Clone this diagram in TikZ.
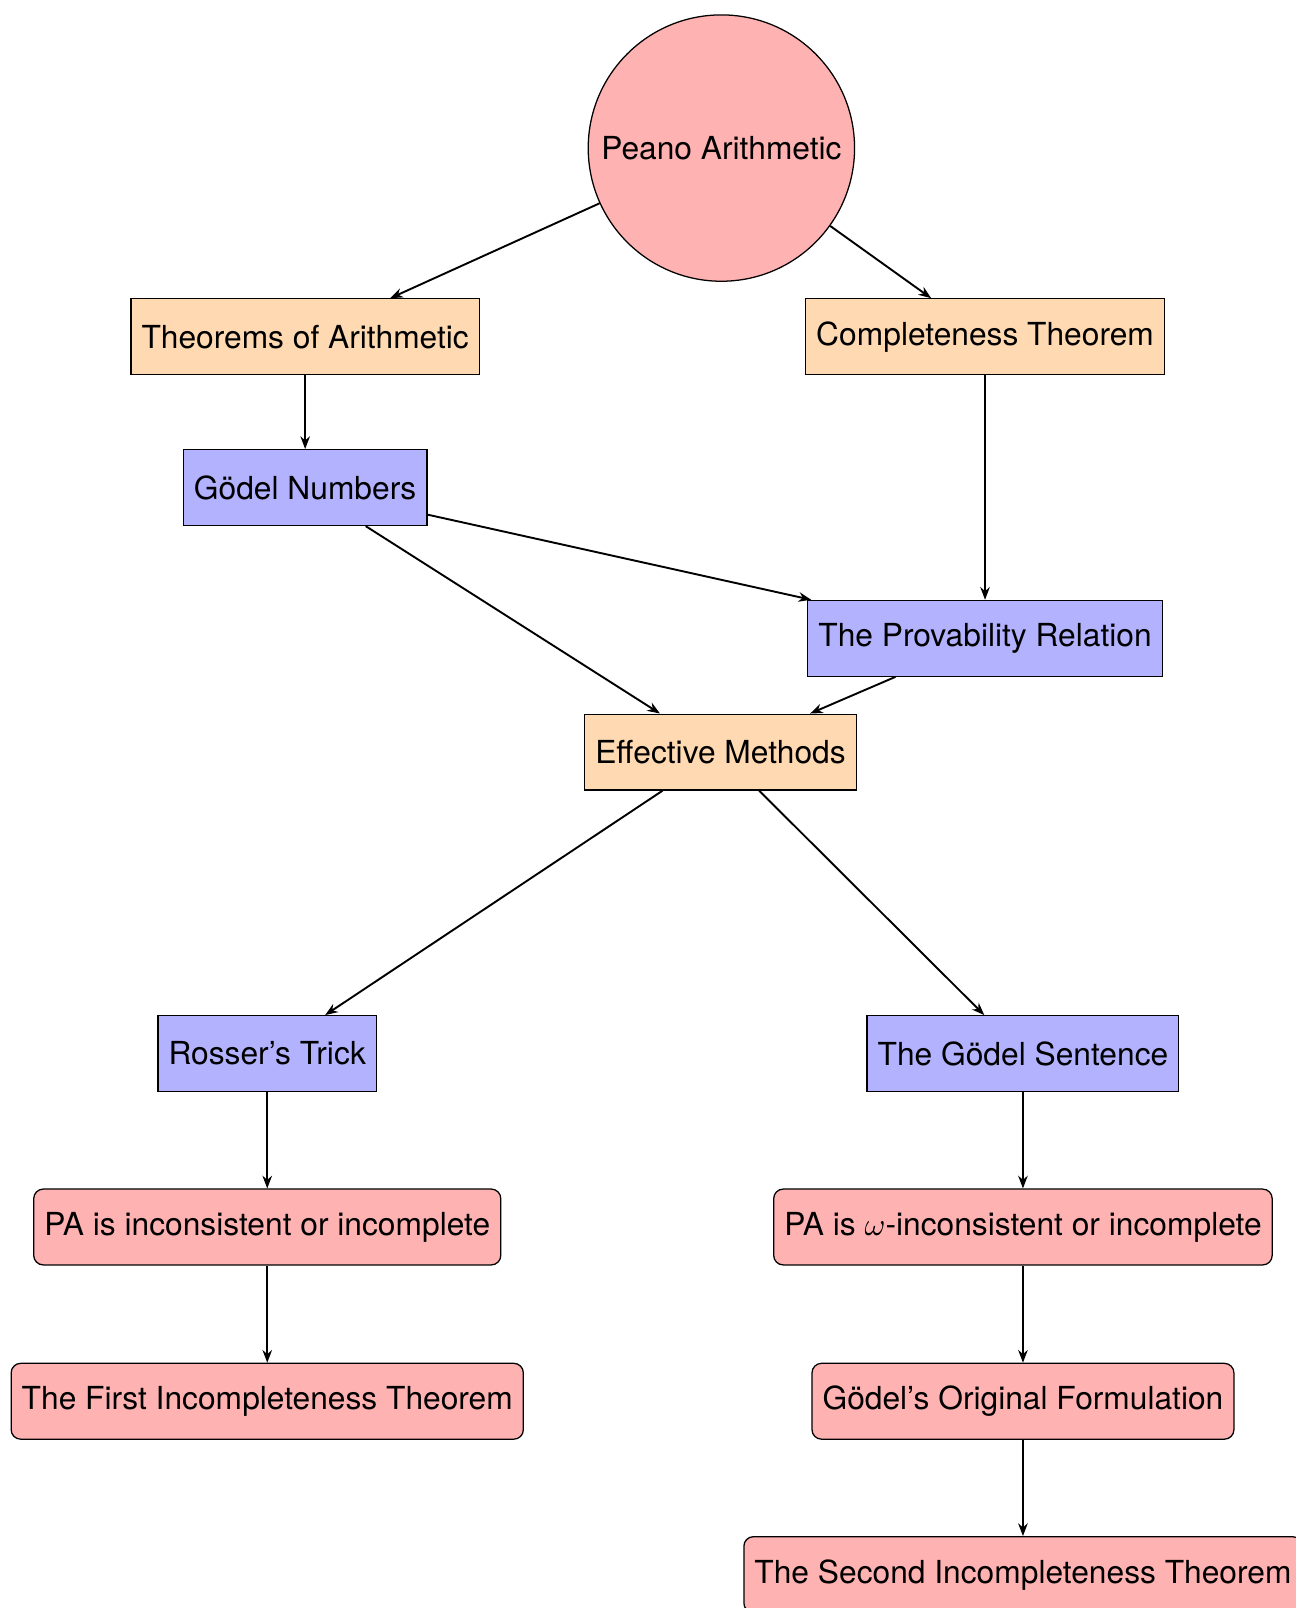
\documentclass[tikz,border=0pt]{standalone}
\usepackage{fontspec}
\setmainfont{TeX Gyre Heros}
\usetikzlibrary{arrows.meta, shapes.geometric}

\begin{document}
\begin{tikzpicture}
        [every node/.style={
             draw,
             font=\fontsize{10}{12}\selectfont
         },
         basebox/.style={
             rectangle,
             minimum height=0.84cm,
             inner sep=0.3333em
         },
         orangebox/.style={basebox, fill=orange!30},
         bluebox/.style={basebox, fill=blue!30},
         redbox/.style={basebox, fill=red!30, rounded corners=3pt},
         link/.style={
             semithick,
             -{Stealth[length=4pt, width=3pt]}
         }
         ]
        \useasboundingbox (0,0) rectangle (14.35,-17.81);
        % top
        \node[circle, fill=red!30, minimum size=2.95cm, inner sep=0pt] (peano) at (7.99,-1.64) {Peano Arithmetic};
        \node[orangebox] (thmarith) at (3.38,-3.73) {Theorems of Arithmetic};
        \node[orangebox] (complete) at (10.91,-3.73) {Completeness Theorem};
        % middle
        \node[bluebox] (numbers) at (3.38,-5.40) {Gödel Numbers};
        \node[bluebox] (provable) at (10.91,-7.07) {The Provability Relation};
        \node[orangebox] (effective) at (7.98,-8.33) {Effective Methods};
        % left branch
        \node[bluebox] (rosser) at (2.96,-11.67) {Rosser’s Trick};
        \node[redbox] (inconsist) at (2.96,-13.59) {PA is inconsistent or incomplete};
        \node[redbox] (first) at (2.96,-15.52) {The First Incompleteness Theorem};
        % right branch
        \node[bluebox] (sentence) at (11.33,-11.67) {The Gödel Sentence};
        \node[redbox] (omega) at (11.33,-13.59) {PA is $\omega$-inconsistent or incomplete};
        \node[redbox] (original) at (11.33,-15.52) {Gödel’s Original Formulation};
        \node[redbox] (second) at (11.33,-17.44) {The Second Incompleteness Theorem};

        \draw[link] (peano) -- (thmarith);
        \draw[link] (peano) -- (complete);
        \draw[link] (thmarith) -- (numbers);
        \draw[link] (numbers) -- (provable);
        \draw[link] (numbers) -- (effective);
        \draw[link] (complete) -- (provable);
        \draw[link] (provable) -- (effective);
        \draw[link] (effective) -- (rosser);
        \draw[link] (effective) -- (sentence);
        \draw[link] (rosser) -- (inconsist);
        \draw[link] (inconsist) -- (first);
        \draw[link] (sentence) -- (omega);
        \draw[link] (omega) -- (original);
        \draw[link] (original) -- (second);
    \end{tikzpicture}
\end{document}
